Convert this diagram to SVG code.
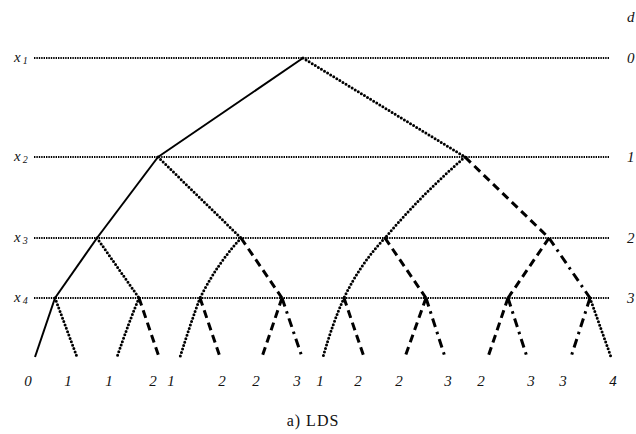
<svg xmlns="http://www.w3.org/2000/svg" width="636" height="434" viewBox="0 0 636 434">
<style>
.lvl{stroke:#000;stroke-width:2;stroke-dasharray:1.4 1;fill:none}
.e{stroke:#000;fill:none}
.s{stroke-width:2}
.d{stroke-width:3;stroke-linecap:round;stroke-dasharray:0 3.6}
.ds{stroke-width:3;stroke-dasharray:8 5}
.dd{stroke-width:3;stroke-dasharray:9 5 2.5 5}
text{font-family:'Liberation Serif','Times New Roman','DejaVu Serif',serif;font-style:italic;font-size:15px;fill:#111}
.t{font-style:normal;font-size:16px;letter-spacing:1px}
</style>
<rect width="636" height="434" fill="#fff"/>
<g id="levels">
<line class="lvl" x1="34" y1="58" x2="609" y2="58"/>
<line class="lvl" x1="34" y1="157" x2="609" y2="157"/>
<line class="lvl" x1="34" y1="238" x2="609" y2="238"/>
<line class="lvl" x1="34" y1="298" x2="609" y2="298"/>
<text x="14" y="62">x<tspan font-size="10" dx="2" dy="2">1</tspan></text>
<text x="14" y="161">x<tspan font-size="10" dx="2" dy="2">2</tspan></text>
<text x="14" y="242">x<tspan font-size="10" dx="2" dy="2">3</tspan></text>
<text x="14" y="302">x<tspan font-size="10" dx="2" dy="2">4</tspan></text>
<text x="627" y="22">d</text>
<text x="627" y="63">0</text>
<text x="627" y="162">1</text>
<text x="627" y="243">2</text>
<text x="627" y="303">3</text>
</g>
<g id="connectors">
<line class="e s" x1="303" y1="58" x2="158" y2="157"/>
<line class="e d" x1="303" y1="58" x2="465" y2="157"/>
<line class="e s" x1="158" y1="157" x2="97" y2="238"/>
<line class="e d" x1="158" y1="157" x2="241" y2="238"/>
<path class="e d" d="M465 157 Q422 194 385 238"/>
<line class="e ds" x1="465" y1="157" x2="549" y2="238"/>
<line class="e s" x1="97" y1="238" x2="55" y2="298"/>
<line class="e d" x1="97" y1="238" x2="139" y2="298"/>
<path class="e d" d="M241 238 Q217 264 200 298"/>
<line class="e ds" x1="241" y1="238" x2="282" y2="298"/>
<path class="e d" d="M385 238 Q360 264 344 298"/>
<line class="e ds" x1="385" y1="238" x2="426" y2="298"/>
<line class="e ds" x1="549" y1="238" x2="508" y2="298"/>
<line class="e dd" x1="549" y1="238" x2="590" y2="298"/>
<path class="e s" d="M55 298 Q47 322 35 357"/>
<line class="e d" x1="55" y1="298" x2="77" y2="357"/>
<path class="e d" d="M139 298 Q129 322 117 357"/>
<line class="e ds" x1="139" y1="298" x2="159" y2="357"/>
<path class="e d" d="M200 298 Q191 322 180 357"/>
<line class="e ds" x1="200" y1="298" x2="220" y2="357"/>
<line class="e ds" x1="282" y1="298" x2="262" y2="357"/>
<line class="e dd" x1="282" y1="298" x2="302" y2="357"/>
<path class="e d" d="M344 298 Q333 322 323 357"/>
<line class="e ds" x1="344" y1="298" x2="364" y2="357"/>
<line class="e ds" x1="426" y1="298" x2="405" y2="357"/>
<line class="e dd" x1="426" y1="298" x2="445" y2="357"/>
<line class="e ds" x1="508" y1="298" x2="488" y2="357"/>
<line class="e dd" x1="508" y1="298" x2="527" y2="357"/>
<line class="e dd" x1="590" y1="298" x2="571" y2="357"/>
<line class="e d" x1="590" y1="298" x2="611" y2="357"/>
</g>
<g id="leaf-labels" text-anchor="middle">
<text x="28" y="386">0</text>
<text x="68" y="386">1</text>
<text x="109" y="386">1</text>
<text x="153" y="386">2</text>
<text x="171" y="386">1</text>
<text x="222" y="386">2</text>
<text x="256" y="386">2</text>
<text x="297" y="386">3</text>
<text x="320" y="386">1</text>
<text x="358" y="386">2</text>
<text x="399" y="386">2</text>
<text x="448" y="386">3</text>
<text x="481" y="386">2</text>
<text x="531" y="386">3</text>
<text x="563" y="386">3</text>
<text x="613" y="386">4</text>
</g>
<g id="caption">
<text class="t" x="313" y="426" text-anchor="middle">a) LDS</text>
</g>
</svg>
